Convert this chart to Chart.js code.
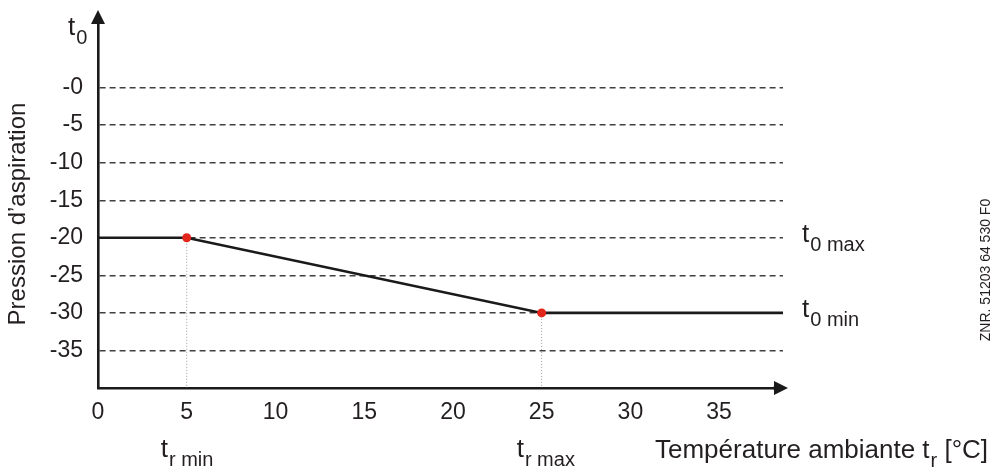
<!DOCTYPE html>
<html>
<head>
<meta charset="utf-8">
<script src="https://cdn.jsdelivr.net/npm/chart.js@4.4.1/dist/chart.umd.min.js"></script>
<style>
  html, body { margin: 0; padding: 0; background: #fff; }
  #wrap { width: 994px; height: 469px; }
</style>
</head>
<body>
<div id="wrap"><canvas id="chart" width="994" height="469"></canvas></div>
<script>
  // axis ticks
  const xTicks = [0, 5, 10, 15, 20, 25, 30, 35];
  const yTicks = [0, -5, -10, -15, -20, -25, -30, -35];
  const yTickLabels = ['-0', '-5', '-10', '-15', '-20', '-25', '-30', '-35'];

  // regulation curve t0 = f(tr)
  const curveX = [0, 5, 25, 38.6];
  const curveY = [-20, -20, -30, -30];

  // break points (tr min / tr max)
  const keyX = [5, 25];
  const keyY = [-20, -30];

  const xMin = 0, xMax = 38.6, yMin = -40, yMax = 9;

  const FONT = '"Liberation Sans", Arial, sans-serif';
  const INK = '#231f20';

  const drops = keyX.map((x, i) => ({
    data: [{ x, y: keyY[i] }, { x, y: yMin }],
    borderColor: '#9a9a9a',
    borderWidth: 1,
    borderDash: [1, 2],
    pointRadius: 0,
    order: 3
  }));

  function subText(c, x, y, main, sub, tail) {
    c.font = `26px ${FONT}`;
    c.fillText(main, x, y);
    let w = c.measureText(main).width;
    c.font = `20px ${FONT}`;
    c.fillText(sub, x + w + 1, y + 9);
    w += c.measureText(sub).width + 1;
    if (tail) {
      c.font = `26px ${FONT}`;
      c.fillText(tail, x + w, y);
    }
  }

  const decor = {
    id: 'decor',
    afterDraw(chart) {
      const c = chart.ctx;
      const a = chart.chartArea;
      const xs = chart.scales.x, ys = chart.scales.y;
      c.save();
      c.fillStyle = '#1a1a1a';
      // arrowheads
      c.beginPath();
      c.moveTo(a.left, a.top - 10);
      c.lineTo(a.left - 7, a.top + 4);
      c.lineTo(a.left + 7, a.top + 4);
      c.closePath();
      c.fill();
      c.beginPath();
      c.moveTo(a.right + 5, a.bottom);
      c.lineTo(a.right - 9, a.bottom - 7);
      c.lineTo(a.right - 9, a.bottom + 7);
      c.closePath();
      c.fill();
      c.fillRect(a.right - 10, a.bottom - 1.3, 6, 2.6);

      c.fillStyle = INK;
      c.textAlign = 'left';
      c.textBaseline = 'alphabetic';
      subText(c, 68, 35, 't', '0');
      subText(c, a.right + 19, ys.getPixelForValue(-20) + 4, 't', '0 max');
      subText(c, a.right + 19, ys.getPixelForValue(-30) + 4, 't', '0 min');
      subText(c, xs.getPixelForValue(keyX[0]) - 26, 457, 't', 'r min');
      subText(c, xs.getPixelForValue(keyX[1]) - 25, 457, 't', 'r max');
      subText(c, 655, 458, 'Température ambiante t', 'r', ' [°C]');

      c.textAlign = 'center';
      c.textBaseline = 'middle';
      c.save();
      c.translate(18.5, 214);
      c.rotate(-Math.PI / 2);
      c.font = `24px ${FONT}`;
      c.fillText('Pression d’aspiration', 0, 0);
      c.restore();

      c.save();
      c.translate(986, 270);
      c.rotate(-Math.PI / 2);
      c.font = `14px ${FONT}`;
      c.fillText('ZNR. 51203 64 530 F0', 0, 0);
      c.restore();
      c.restore();
    }
  };

  new Chart(document.getElementById('chart'), {
    type: 'line',
    data: {
      datasets: [
        {
          data: keyX.map((x, i) => ({ x, y: keyY[i] })),
          showLine: false,
          pointRadius: 4.5,
          pointBackgroundColor: '#e3261c',
          pointBorderWidth: 0,
          order: 0
        },
        {
          data: curveX.map((x, i) => ({ x, y: curveY[i] })),
          borderColor: '#1a1a1a',
          borderWidth: 2.6,
          pointRadius: 0,
          tension: 0,
          clip: false,
          order: 1
        },
        ...drops
      ]
    },
    options: {
      responsive: false,
      animation: false,
      layout: { padding: { left: 0, top: 20, right: 211, bottom: 41 } },
      plugins: { legend: { display: false }, tooltip: { enabled: false } },
      scales: {
        x: {
          type: 'linear',
          min: xMin,
          max: xMax,
          afterBuildTicks: s => { s.ticks = xTicks.map(v => ({ value: v })); },
          afterFit: s => { s.height = 40; s.paddingLeft = 0; s.paddingRight = 0; },
          grid: { display: false, drawTicks: false },
          border: { display: true, color: '#1a1a1a', width: 2.6 },
          ticks: { font: { family: FONT, size: 23 }, color: INK, padding: 11, maxRotation: 0, callback: v => String(v) }
        },
        y: {
          type: 'linear',
          min: yMin,
          max: yMax,
          afterBuildTicks: s => { s.ticks = yTicks.map(v => ({ value: v })); },
          afterFit: s => { s.width = 98; s.paddingTop = 0; s.paddingBottom = 0; },
          grid: { color: '#404040', lineWidth: 1.4, drawTicks: false },
          border: { display: true, color: '#1a1a1a', width: 2.6, dash: [6, 4] },
          ticks: { font: { family: FONT, size: 23 }, color: INK, padding: 15, callback: v => yTickLabels[yTicks.indexOf(v)] }
        }
      }
    },
    plugins: [decor]
  });
</script>
</body>
</html>
